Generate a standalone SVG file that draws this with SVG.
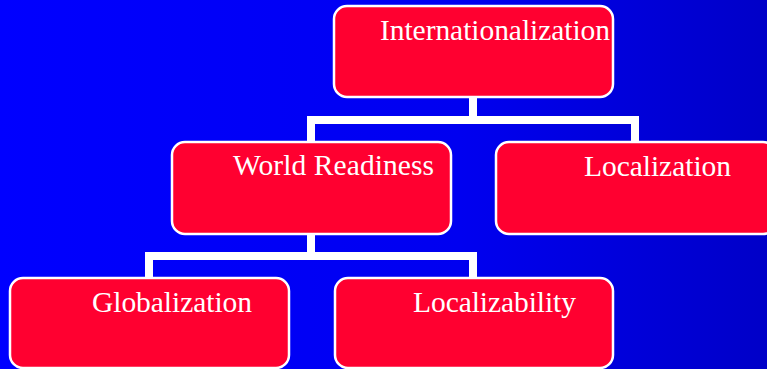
<svg xmlns="http://www.w3.org/2000/svg" width="767" height="369" viewBox="0 0 767 369">
<defs>
<linearGradient id="bg" x1="0" y1="0" x2="1" y2="0">
<stop offset="0" stop-color="#0000FF"/>
<stop offset="0.6" stop-color="#0000F0"/>
<stop offset="1" stop-color="#0000C8"/>
</linearGradient>
</defs>
<style>
.box{fill:#FF0030;stroke:#FFFFFF;stroke-width:2.5}
.lbl{fill:#FFFFFF;font-family:"Liberation Serif","Times New Roman",serif;font-size:29.5px}
.conn{fill:none;stroke:#FFFFFF;stroke-width:8;stroke-linejoin:miter;stroke-linecap:butt}
</style>
<rect x="0" y="0" width="767" height="369" fill="url(#bg)"/>
<g id="connectors">
<path class="conn" d="M473,97 V120 M311,142 V120 H635 V142"/>
<path class="conn" d="M311,234 V256 M149,278 V256 H473 V278"/>
</g>
<g id="internationalization">
<rect class="box" x="334" y="6" width="279" height="91" rx="13"/>
<text class="lbl" x="380" y="40" textLength="230">Internationalization</text>
</g>
<g id="world-readiness">
<rect class="box" x="172" y="142" width="279" height="92" rx="13"/>
<text class="lbl" x="233" y="175" textLength="201">World Readiness</text>
</g>
<g id="localization">
<rect class="box" x="496" y="142" width="280" height="92" rx="13"/>
<text class="lbl" x="584" y="176" textLength="147">Localization</text>
</g>
<g id="globalization">
<rect class="box" x="10" y="278" width="279" height="90" rx="13"/>
<text class="lbl" x="92" y="312" textLength="160">Globalization</text>
</g>
<g id="localizability">
<rect class="box" x="335" y="278" width="278" height="90" rx="13"/>
<text class="lbl" x="413" y="312" textLength="163">Localizability</text>
</g>
</svg>
